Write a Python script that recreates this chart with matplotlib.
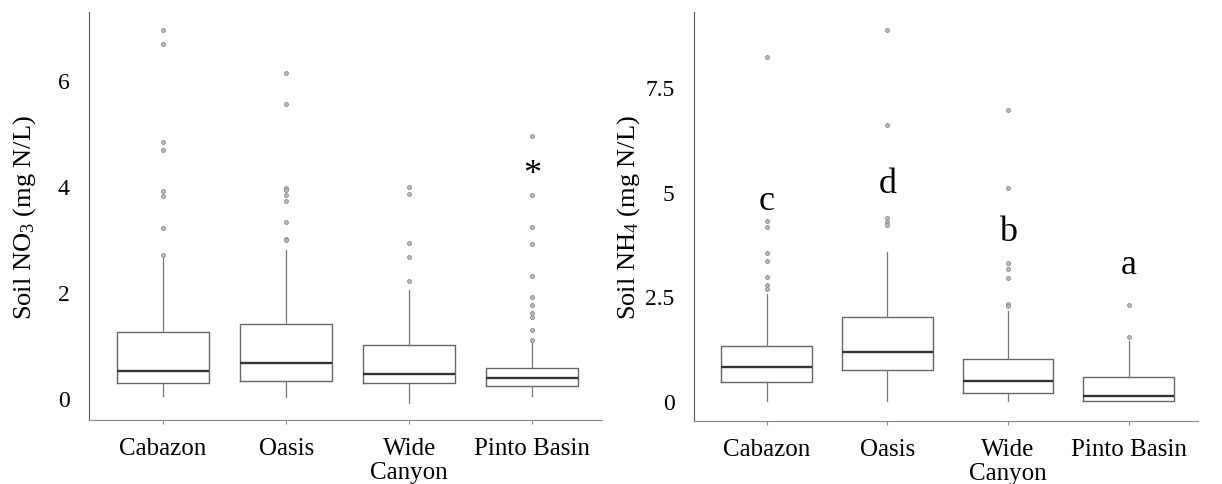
import numpy as np
import matplotlib.pyplot as plt

plt.rcParams['font.family'] = ['Liberation Serif', 'DejaVu Serif']
plt.rcParams['mathtext.fontset'] = 'custom'
plt.rcParams['mathtext.rm'] = 'Liberation Serif'
plt.rcParams['mathtext.it'] = 'Liberation Serif:italic'

sites = ['Cabazon', 'Oasis', 'Wide\nCanyon', 'Pinto Basin']

# soil NO3 (mg N/L)
no3_whislo = [0.03, 0.02, -0.10, 0.04]
no3_q1 = [0.28, 0.31, 0.28, 0.22]
no3_med = [0.50, 0.65, 0.44, 0.38]
no3_q3 = [1.24, 1.39, 0.99, 0.57]
no3_whishi = [2.68, 2.80, 2.04, 1.07]
no3_fliers = [
    [6.95, 6.68, 4.83, 4.68, 3.91, 3.81, 3.21, 2.70],
    [6.13, 5.56, 3.97, 3.92, 3.83, 3.71, 3.32, 3.00, 2.99],
    [3.98, 3.86, 2.93, 2.66, 2.20],
    [4.95, 3.84, 3.23, 2.90, 2.31, 1.90, 1.75, 1.61, 1.53, 1.28, 1.09],
]

# soil NH4 (mg N/L)
nh4_whislo = [0.0, 0.0, 0.0, 0.0]
nh4_q1 = [0.44, 0.74, 0.18, 0.0]
nh4_med = [0.81, 1.16, 0.48, 0.12]
nh4_q3 = [1.32, 2.00, 1.00, 0.56]
nh4_whishi = [2.55, 3.57, 2.15, 1.44]
nh4_fliers = [
    [8.22, 4.31, 4.17, 3.54, 3.35, 2.97, 2.78, 2.67],
    [8.86, 6.60, 4.37, 4.27, 4.20],
    [6.96, 5.09, 3.31, 3.16, 2.95, 2.31, 2.26],
    [2.29, 1.54],
]
nh4_letters = ['c', 'd', 'b', 'a']
nh4_letter_y = [4.8, 5.2, 4.05, 3.27]


def make_stats(lo, q1, med, q3, hi, fl):
    stats = []
    for i in range(len(sites)):
        stats.append(dict(whislo=lo[i], q1=q1[i], med=med[i], q3=q3[i],
                          whishi=hi[i], fliers=np.array(fl[i])))
    return stats


def draw(ax, stats, ylim, yticks, yticklabels, ylabel):
    ax.bxp(stats, positions=range(len(sites)), widths=0.75, showcaps=False,
           boxprops=dict(color='#666666', linewidth=1.0),
           medianprops=dict(color='#333333', linewidth=1.7),
           whiskerprops=dict(color='#777777', linewidth=0.9),
           flierprops=dict(marker='o', markersize=2.8, markerfacecolor='#bbbbbb',
                           markeredgecolor='#888888', markeredgewidth=0.6))
    ax.set_xlim(-0.6, 3.57)
    ax.set_ylim(*ylim)
    ax.set_xticks(range(len(sites)))
    ax.set_xticklabels(sites, fontsize=18, linespacing=1.15)
    ax.set_yticks(yticks)
    ax.set_yticklabels(yticklabels, fontsize=17)
    ax.tick_params(axis='y', length=0, pad=14)
    ax.tick_params(axis='x', length=3, color='#888888', pad=9)
    for s in ['top', 'right']:
        ax.spines[s].set_visible(False)
    ax.spines['left'].set_color('#555555')
    ax.spines['bottom'].set_color('#888888')
    ax.spines['bottom'].set_linestyle((0, (4, 1)))
    ax.set_ylabel(ylabel, fontsize=19)


fig = plt.figure(figsize=(12.22, 4.85), dpi=100)
ax1 = fig.add_axes([0.073, 0.132, 0.42, 0.841])
ax2 = fig.add_axes([0.568, 0.130, 0.412, 0.843])

draw(ax1, make_stats(no3_whislo, no3_q1, no3_med, no3_q3, no3_whishi, no3_fliers),
     (-0.42, 7.29), [0, 2, 4, 6], ['0', '2', '4', '6'], 'Soil NO$_3$ (mg N/L)')
ax1.yaxis.set_label_coords(-0.10, 0.5)
ax1.text(3, 4.22, '*', ha='center', va='center', fontsize=26)

draw(ax2, make_stats(nh4_whislo, nh4_q1, nh4_med, nh4_q3, nh4_whishi, nh4_fliers),
     (-0.48, 9.3), [0, 2.5, 5, 7.5], ['0', '2.5', '5', '7.5'], 'Soil NH$_4$ (mg N/L)')
ax2.yaxis.set_label_coords(-0.103, 0.5)
for i, t in enumerate(nh4_letters):
    ax2.text(i, nh4_letter_y[i], t, ha='center', va='center', fontsize=26)

fig.savefig('out.png', dpi=100)
